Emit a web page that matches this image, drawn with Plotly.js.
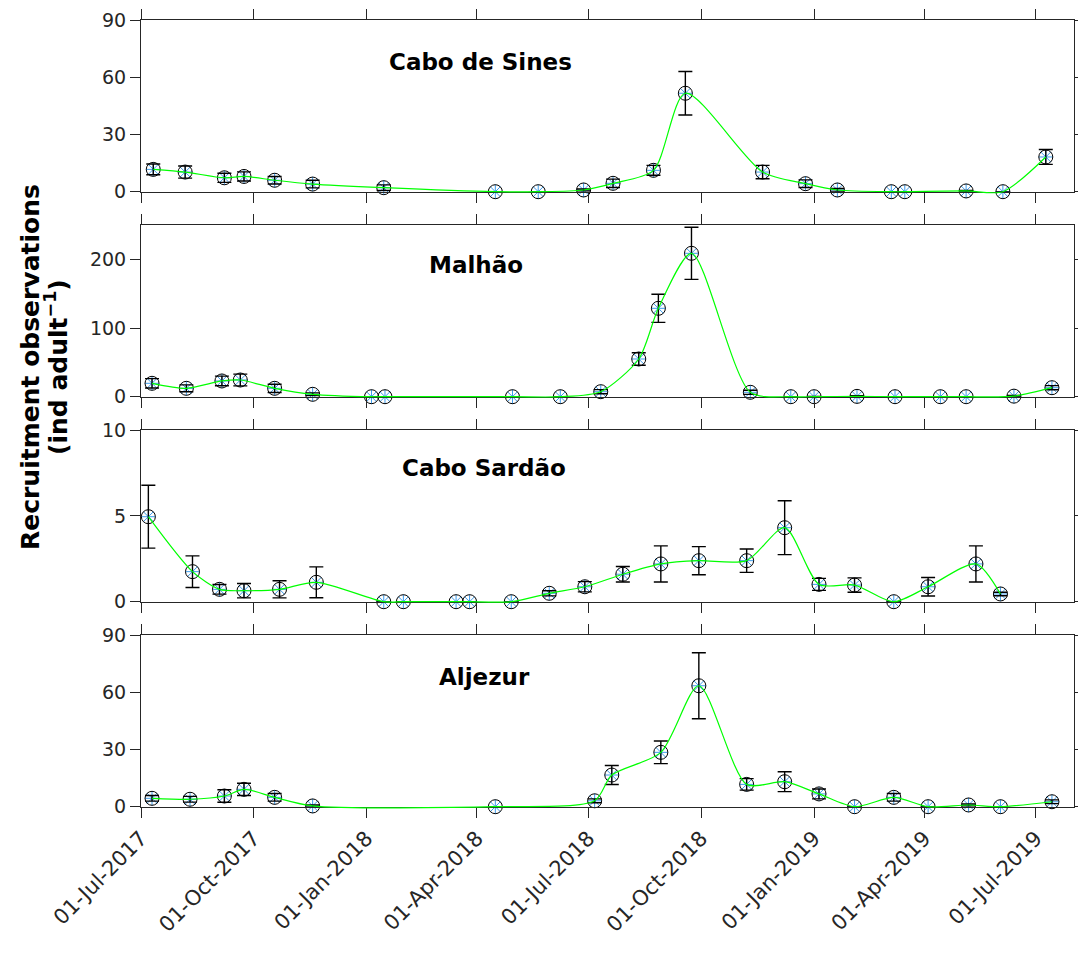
<!DOCTYPE html>
<html>
<head>
<meta charset="utf-8">
<script src="https://cdn.plot.ly/plotly-3.0.1.min.js"></script>
<style>html,body{margin:0;padding:0;background:#fff;}#chart{width:1078px;height:956px;}</style>
</head>
<body>
<div id="chart"></div>
<script>
// ---------- data ----------
const siteNames = ["Cabo de Sines", "Malhão", "Cabo Sardão", "Aljezur"];

const sinesDates = ["2017-07-11","2017-08-06","2017-09-07","2017-09-23","2017-10-18","2017-11-18","2018-01-15","2018-04-16","2018-05-21","2018-06-27","2018-07-21","2018-08-23","2018-09-18","2018-11-20","2018-12-25","2019-01-20","2019-03-05","2019-03-16","2019-05-05","2019-06-04","2019-07-09"];
const sinesVals  = [11.7,10.3,7.3,8.0,6.0,4.0,2.1,0,0,0.9,4.4,11.2,51.6,10.3,4.2,0.9,0,0,0.4,0,18.2];
const sinesErr   = [2.8,3.2,2.4,2.4,2.0,2.0,1.5,0,0,0.5,2.2,2.6,11.4,3.5,2.0,0.8,0,0,0.3,0,3.9];

const malhaoDates = ["2017-07-10","2017-08-07","2017-09-05","2017-09-20","2017-10-18","2017-11-18","2018-01-05","2018-01-16","2018-04-30","2018-06-08","2018-07-11","2018-08-11","2018-08-27","2018-09-23","2018-11-10","2018-12-13","2019-01-01","2019-02-05","2019-03-08","2019-04-14","2019-05-05","2019-06-13","2019-07-14"];
const malhaoVals  = [19.5,12.2,22.9,24.3,12.2,3.5,0,0,0,0,7.3,54.9,128.7,208.8,6.4,0,0,0.5,0,0,0,0.8,13.1];
const malhaoErr   = [6.8,5,7,8.5,6,2,0,0,0,0,3,9,20.5,38,3,0,0.3,1,0,0,0,1,3];

const sardaoDates = ["2017-07-07","2017-08-12","2017-09-03","2017-09-23","2017-10-22","2017-11-21","2018-01-15","2018-01-31","2018-03-15","2018-03-26","2018-04-29","2018-05-30","2018-06-28","2018-07-29","2018-08-29","2018-09-29","2018-11-07","2018-12-08","2019-01-05","2019-02-03","2019-03-07","2019-04-04","2019-05-13","2019-06-02"];
const sardaoVals  = [4.95,1.75,0.72,0.64,0.72,1.13,0,0,0,0,0,0.49,0.87,1.6,2.2,2.39,2.39,4.31,1.01,0.97,0,0.87,2.2,0.45];
const sardaoErr   = [1.83,0.92,0.28,0.42,0.5,0.9,0,0,0,0,0,0.15,0.3,0.45,1.05,0.82,0.68,1.57,0.35,0.42,0,0.54,1.05,0.1];

const aljezurDates = ["2017-07-10","2017-08-10","2017-09-07","2017-09-23","2017-10-18","2017-11-18","2018-04-16","2018-07-06","2018-07-20","2018-08-29","2018-09-29","2018-11-07","2018-12-08","2019-01-05","2019-02-03","2019-03-07","2019-04-04","2019-05-07","2019-06-02","2019-07-14"];
const aljezurVals  = [4.4,3.9,5.6,9.1,4.9,0.4,0,3.1,16.6,28.5,63.4,11.7,13.1,6.7,0,4.9,0,0.9,0,2.6];
const aljezurErr   = [1.5,1.5,3.3,3.2,2,0.5,0,1,5,5.9,17.3,3,5.2,2.6,0,2,0,0.5,0,1];

const tickDates  = ["2017-07-01","2017-10-01","2018-01-01","2018-04-01","2018-07-01","2018-10-01","2019-01-01","2019-04-01","2019-07-01"];
const tickLabels = ["01-Jul-2017","01-Oct-2017","01-Jan-2018","01-Apr-2018","01-Jul-2018","01-Oct-2018","01-Jan-2019","01-Apr-2019","01-Jul-2019"];

const yRanges = [[0,90],[0,250],[0,10],[0,90]];
const yTicks  = [[0,30,60,90],[0,100,200],[0,5,10],[0,30,60,90]];

// ---------- build ----------
const series = [
  [sinesDates, sinesVals, sinesErr],
  [malhaoDates, malhaoVals, malhaoErr],
  [sardaoDates, sardaoVals, sardaoErr],
  [aljezurDates, aljezurVals, aljezurErr]
];

const FONT = "DejaVu Sans, Arial, sans-serif";
const AX = "#262626";
const XR = ["2017-07-01", "2019-08-01"];
const MB = 139;                       // bottom margin (px)
const plotTop = 20, plotBot = 956 - MB, H = plotBot - plotTop;
const panelPx = [[20,191.7],[225,396.7],[430,601.7],[635,806.7]];
const EXT = 8;                        // extra px below each panel for the smooth line layer

const traces = [];
const layout = {
  width: 1078, height: 956,
  margin: {l: 141, r: 4, t: plotTop, b: MB},
  paper_bgcolor: "#fff", plot_bgcolor: "rgba(0,0,0,0)",
  font: {family: FONT, size: 18, color: AX},
  showlegend: false,
  annotations: []
};
const titlePos = [[480,62],[476,265],[484,468],[484,677]];

series.forEach((s, i) => {
  const sfx = i === 0 ? "" : String(i + 1);
  const lsfx = String(i + 5);
  const p = panelPx[i];
  const d0 = (plotBot - p[1]) / H, d1 = (plotBot - p[0]) / H;
  const pxPerUnit = (p[1] - p[0]) / (yRanges[i][1] - yRanges[i][0]);
  const extU = EXT / pxPerUnit;

  // smooth green line drawn in a hidden, slightly taller subplot with identical scale
  traces.push({x: s[0], y: s[1], xaxis: "x" + lsfx, yaxis: "y" + lsfx, type: "scatter", mode: "lines",
    line: {color: "#00ff00", width: 1.2, shape: "spline", smoothing: 0.75}, hoverinfo: "skip", showlegend: false});
  layout["xaxis" + lsfx] = {anchor: "y" + lsfx, type: "date", range: XR, visible: false, showgrid: false, zeroline: false};
  layout["yaxis" + lsfx] = {anchor: "x" + lsfx, domain: [d0 - EXT / H, d1], range: [yRanges[i][0] - extU, yRanges[i][1]],
    visible: false, showgrid: false, zeroline: false};

  traces.push({x: s[0], y: s[1], xaxis: "x" + sfx, yaxis: "y" + sfx, type: "scatter", mode: "markers", cliponaxis: false,
    marker: {symbol: "asterisk-open", size: 12, color: "#3d9be9", line: {color: "#3d9be9", width: 1}}, showlegend: false});
  traces.push({x: s[0], y: s[1], xaxis: "x" + sfx, yaxis: "y" + sfx, type: "scatter", mode: "markers", cliponaxis: false,
    marker: {symbol: "circle-open", size: 14, color: "#000", line: {color: "#000", width: 1}},
    error_y: {type: "data", array: s[2], visible: true, color: "#000", thickness: 1.4, width: 7},
    showlegend: false});

  layout["yaxis" + sfx] = {
    domain: [d0, Math.min(1, d1)], anchor: "x" + sfx, range: yRanges[i],
    tickvals: yTicks[i], ticks: "outside", ticklen: 10, tickwidth: 1, tickcolor: AX,
    showline: true, linecolor: AX, linewidth: 1, mirror: "ticks", showgrid: false, zeroline: false,
    tickfont: {family: FONT, size: 19, color: AX}
  };
  layout["xaxis" + sfx] = {
    anchor: "y" + sfx, type: "date", range: XR,
    tickvals: tickDates, ticktext: tickLabels, showticklabels: i === 3, tickangle: -45,
    ticks: "outside", ticklen: 10, tickwidth: 1, tickcolor: AX,
    showline: true, linecolor: AX, linewidth: 1, mirror: "ticks", showgrid: false, zeroline: false,
    tickfont: {family: FONT, size: 21, color: AX}
  };
  layout.annotations.push({
    xref: "paper", yref: "paper", x: (titlePos[i][0] - 141) / 933, y: (plotBot - titlePos[i][1]) / H,
    xanchor: "center", yanchor: "middle", showarrow: false,
    text: "<b>" + siteNames[i] + "</b>", font: {family: FONT, size: 23, color: "#000"}
  });
});
layout.annotations.push({
  xref: "paper", yref: "paper", x: (30 - 141) / 933, y: (plotBot - 367) / H,
  xanchor: "center", yanchor: "middle", showarrow: false, textangle: -90,
  text: "<b>Recruitment observations</b>",
  font: {family: FONT, size: 25, color: "#000"}
});
layout.annotations.push({
  xref: "paper", yref: "paper", x: (56 - 141) / 933, y: (plotBot - 367) / H,
  xanchor: "center", yanchor: "middle", showarrow: false, textangle: -90,
  text: "<b>(ind adult<sup>−1</sup>)</b>",
  font: {family: FONT, size: 25, color: "#000"}
});

Plotly.newPlot("chart", traces, layout, {staticPlot: true, displayModeBar: false});
</script>
</body>
</html>
